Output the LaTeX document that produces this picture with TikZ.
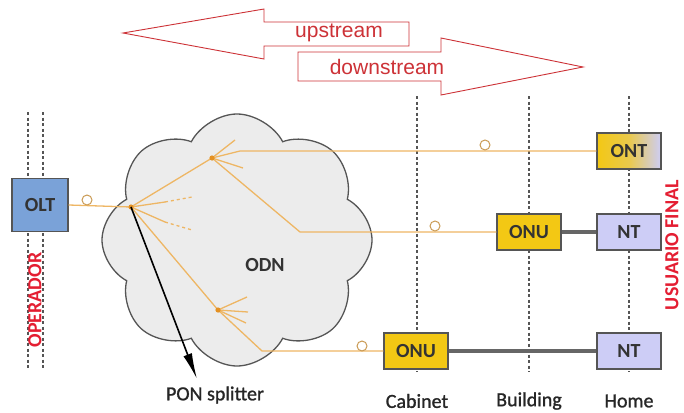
\documentclass[tikz,border=0pt]{standalone}
\usepackage{fontspec}
\setmainfont{Carlito}
\newfontfamily\arrowfont{Liberation Sans}
\newfontfamily\labelfont[FakeBold=1.2]{Carlito}
\usetikzlibrary{arrows.meta}
\usetikzlibrary{shapes.symbols}
\usetikzlibrary{positioning}

\definecolor{fibre}{RGB}{238,182,100}
\definecolor{splice}{RGB}{228,145,35}
\definecolor{onugold}{RGB}{243,200,20}
\definecolor{ntlilac}{RGB}{205,205,246}
\definecolor{oltblue}{RGB}{122,162,216}
\definecolor{streamred}{RGB}{205,50,55}
\definecolor{edgegray}{RGB}{85,85,85}
\definecolor{labelred}{RGB}{228,30,50}

\tikzset{
	unit/.style={draw=edgegray, line width=1.4pt, minimum width=64pt, minimum height=36pt, inner sep=0pt, font=\bfseries\fontsize{20}{20}\selectfont, text=black!80},
	fibreline/.style={draw=fibre, line width=1.3pt},
	copper/.style={draw=gray!80!black, line width=3.6pt},
	tier/.style={draw=edgegray, line width=1.3pt, dash pattern=on 3pt off 2.5pt},
	stream/.style={draw=streamred, line width=0.9pt, fill=white},
	slack/.style={draw=fibre!85!black, line width=1pt},
	place/.style={text=black!85, font=\labelfont\fontsize{20}{20}\selectfont},
	side/.style={text=labelred, rotate=90, inner sep=1pt, font=\bfseries\fontsize{20}{20}\selectfont},
}

\begin{document}
\begin{tikzpicture}[x=1pt,y=-1pt,>=Stealth]
		\useasboundingbox (0,0) rectangle (684,412);
		% up / down arrows
		\draw[stream] (123,33) -- (264,9) -- (264,22) -- (409,22) -- (409,46) -- (264,46) -- (264,59) -- cycle;
		\draw[stream] (298,52) -- (441,52) -- (441,38) -- (583,67) -- (441,95) -- (441,81) -- (298,81) -- cycle;
		\node[text=streamred, font=\arrowfont\fontsize{21}{21}\selectfont] (up) at (339,33) {upstream};
		\node[text=streamred, font=\arrowfont\fontsize{21}{21}\selectfont] (down) at (387,67) {downstream};

		% cloud
		\node[cloud, cloud puffs=8, cloud puff arc=125, aspect=1.1, draw=edgegray, fill=gray!15, line width=1.3pt, minimum width=270pt, minimum height=252pt] (odn) at (237,240) {};
		\node[font=\bfseries\fontsize{20}{20}\selectfont, text=black!80] (odnlabel) at (265,265) {ODN};

		% dashed borders
		\foreach \x in {28,43}
			\draw[tier] (\x,112) -- (\x,370);
		\foreach \x in {417,529,629}
			\draw[tier] (\x,96) -- (\x,372);

		\node[unit, fill=oltblue, minimum width=56pt, minimum height=53pt] (olt) at (40,205) {OLT};
		\node[unit, left color=onugold, right color=ntlilac, middle color=onugold!75!ntlilac] (ont) at (629,151) {ONT};
		\node[unit, fill=onugold] (onua) at (529,232) {ONU};
		\node[unit, fill=ntlilac] (nta) at (629,232) {NT};
		\node[unit, fill=onugold] (onub) at (416,351) {ONU};
		\node[unit, fill=ntlilac] (ntb) at (629,351) {NT};

		\coordinate (sp1) at (131,207);
		\coordinate (sp2) at (212,158);
		\coordinate (sp3) at (218,310);
		\coordinate (benda) at (240,151);
		\coordinate (bendb) at (300,232);
		\coordinate (bendc) at (262,351);

		% fibres
		\draw[fibreline] (olt.east) -- (sp1);
		\draw[fibreline] (sp1) -- (sp2) -- (benda) -- (ont.west);
		\draw[fibreline] (sp2) -- (bendb) -- (onua.west);
		\draw[fibreline] (sp1) -- (sp3) -- (bendc) -- (onub.west);
		\draw[fibreline] (sp1) -- ++(34,-5);
		\draw[fibreline, dashed] (sp1) ++(34,-5) -- ++(27,-5);
		\draw[fibreline] (sp1) -- ++(34,15);
		\draw[fibreline, dashed] (sp1) ++(34,15) -- ++(27,8);
		\foreach \dx/\dy in {23/-18,31/10}
			\draw[fibreline] (sp2) -- ++(\dx,\dy);
		\foreach \dx/\dy in {29/-13,30/2,28/13}
			\draw[fibreline] (sp3) -- ++(\dx,\dy);
		\foreach \x/\y in {87/200,485/145,435/226,362/346}
			\draw[slack] (\x,\y) circle (5pt);
		\foreach \s in {sp1,sp2,sp3}
			\fill[splice] (\s) circle (2.6pt);

		% drop cables
		\draw[copper] (onua.east) -- (nta.west);
		\draw[copper] (onub.east) -- (ntb.west);

		% splitter pointer
		\node[place] (ponlabel) at (215,395) {PON splitter};
		\coordinate (pontip) at (197,379);
		\draw[line width=1.6pt, -{Latex[length=26pt,width=9pt]}] (sp1) -- (pontip);

		\node[place] (cab) at (417,401) {Cabinet};
		\node[place] (bld) at (529,401) {Building};
		\node[place] (home) at (629,401) {Home};
		\node[side] (op) at (35,300) {OPERADOR};
		\node[side] (user) at (672,245) {USUARIO FINAL};
	\end{tikzpicture}
\end{document}
